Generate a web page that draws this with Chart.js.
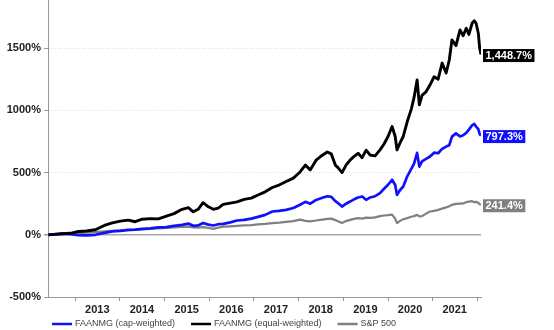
<!DOCTYPE html>
<html lang="en">
<head>
<meta charset="UTF-8">
<title>FAANMG vs S&amp;P 500</title>
<script src="https://cdn.jsdelivr.net/npm/chart.js"></script>
<style>
  html, body { margin: 0; padding: 0; background: #fff; }
  #wrap { width: 554px; height: 330px; position: relative; }
</style>
</head>
<body>
<div id="wrap"><canvas id="perfChart"></canvas></div>
<script>
  // cumulative return since the start (%), dates as decimal years
  const dates = [
    2012.40, 2012.55, 2012.71, 2012.89, 2013.07, 2013.25, 2013.45, 2013.65, 2013.83, 2014.01,
    2014.19, 2014.34, 2014.50, 2014.68, 2014.86, 2015.04, 2015.21, 2015.39, 2015.53, 2015.64,
    2015.75, 2015.86, 2015.98, 2016.09, 2016.20, 2016.31, 2016.47, 2016.62, 2016.78, 2016.94,
    2017.09, 2017.25, 2017.41, 2017.56, 2017.72, 2017.88, 2018.03, 2018.15, 2018.26, 2018.39,
    2018.53, 2018.64, 2018.73, 2018.82, 2018.88, 2018.97, 2019.06, 2019.15, 2019.24, 2019.33,
    2019.42, 2019.51, 2019.60, 2019.71, 2019.82, 2019.91, 2020.00, 2020.09, 2020.16, 2020.20,
    2020.27, 2020.34, 2020.43, 2020.52, 2020.58, 2020.65, 2020.70, 2020.76, 2020.85, 2020.94,
    2021.03, 2021.12, 2021.21, 2021.30, 2021.37, 2021.43, 2021.52, 2021.61, 2021.68, 2021.75,
    2021.81, 2021.88, 2021.93, 2021.97, 2022.02, 2022.05, 2022.08
  ];
  const capWeighted = [
    0, 5, 10, 5, -3, -5, 0, 15, 27, 32,
    40, 42, 48, 52, 60, 62, 72, 80, 90, 72,
    75, 95, 82, 75, 85, 88, 100, 115, 120, 130,
    144, 160, 187, 192, 200, 215, 241, 265, 250, 280,
    297, 310, 305, 270, 255, 227, 250, 267, 285, 300,
    308, 281, 300, 310, 335, 370, 402, 442, 400, 321,
    360, 388, 470, 530, 570, 658, 548, 590, 610, 629,
    660, 655, 690, 709, 720, 789, 815, 790, 800, 819,
    845, 880, 891, 870, 850, 810, 797.3
  ];
  const equalWeighted = [
    0, 3, 8, 12, 27, 30, 40, 75, 96, 110,
    118, 105, 125, 130, 128, 150, 170, 205, 218, 185,
    205, 258, 225, 205, 215, 245, 255, 265, 285, 295,
    320, 345, 380, 400, 428, 455, 505, 560, 522, 600,
    640, 665, 650, 560, 540, 500, 560, 600, 630, 655,
    620, 680, 640, 634, 682, 730, 790, 870, 790, 682,
    740, 790, 910, 1010, 1100, 1245, 1044, 1120, 1150, 1205,
    1270, 1250, 1380, 1300, 1405, 1566, 1520, 1646, 1600, 1660,
    1610, 1700, 1720, 1700, 1620, 1500, 1448.7
  ];
  const sp500 = [
    0, 4, 8, 12, 13, 18, 22, 28, 32, 35,
    38, 40, 44, 48, 52, 56, 60, 63, 66, 60,
    58, 62, 55, 48, 58, 65, 68, 72, 75, 78,
    84, 88, 94, 98, 104, 110, 122, 112, 108, 115,
    122, 128, 130, 118, 108, 94, 110, 120, 128, 134,
    130, 138, 136, 140, 150, 155, 158, 162, 130, 94,
    112, 125, 134, 145, 150, 160, 148, 150, 170, 187,
    192, 200, 210, 220, 230, 241, 248, 250, 252, 262,
    267, 270, 262, 265, 257, 245, 241.4
  ];
  const seriesNames = ['FAANMG (cap-weighted)', 'FAANMG (equal-weighted)', 'S&P 500'];
  const seriesColors = ['#1010ff', '#000000', '#808080'];
  const yearTicks = [2013, 2014, 2015, 2016, 2017, 2018, 2019, 2020, 2021, 2022];
  const yTicks = [-500, 0, 500, 1000, 1500];

  const FONT = '"Liberation Sans", Arial, sans-serif';

  function toPoints(values) {
    return dates.map((d, i) => ({ x: d, y: values[i] }));
  }

  // boxed value label at the end of each line
  const endLabels = {
    id: 'endLabels',
    afterDatasetsDraw(chart) {
      const ctx = chart.ctx;
      const yScale = chart.scales.y;
      const x0 = chart.chartArea.right + 2;
      ctx.save();
      ctx.font = 'bold 11px ' + FONT;
      ctx.textBaseline = 'middle';
      chart.data.datasets.forEach(ds => {
        const last = ds.data[ds.data.length - 1].y;
        const y = yScale.getPixelForValue(last) + 1;
        const txt = last.toLocaleString('en-US', { minimumFractionDigits: 1, maximumFractionDigits: 1 }) + '%';
        const w = ctx.measureText(txt).width + 5;
        ctx.fillStyle = ds.borderColor;
        ctx.fillRect(x0, y - 6.5, w, 13);
        ctx.fillStyle = '#fff';
        ctx.fillText(txt, x0 + 2.5, y + 0.5);
      });
      ctx.restore();
    }
  };

  // single-row legend under the axis
  const bottomLegend = {
    id: 'bottomLegend',
    afterDraw(chart) {
      const ctx = chart.ctx;
      let x = 52;
      const y = 324;
      ctx.save();
      ctx.font = '9px ' + FONT;
      ctx.textBaseline = 'middle';
      chart.data.datasets.forEach(ds => {
        ctx.strokeStyle = ds.borderColor;
        ctx.lineWidth = 2.5;
        ctx.beginPath();
        ctx.moveTo(x, y);
        ctx.lineTo(x + 20, y);
        ctx.stroke();
        ctx.fillStyle = '#444';
        ctx.fillText(ds.label, x + 23, y);
        x += 23 + ctx.measureText(ds.label).width + 16;
      });
      ctx.restore();
    }
  };

  new Chart(document.getElementById('perfChart'), {
    type: 'line',
    data: {
      datasets: [
        { label: seriesNames[0], data: toPoints(capWeighted), borderColor: seriesColors[0], borderWidth: 2.7, order: 2 },
        { label: seriesNames[1], data: toPoints(equalWeighted), borderColor: seriesColors[1], borderWidth: 2.9, order: 1 },
        { label: seriesNames[2], data: toPoints(sp500), borderColor: seriesColors[2], borderWidth: 2.2, order: 3 }
      ]
    },
    options: {
      responsive: true,
      maintainAspectRatio: false,
      animation: false,
      elements: { point: { radius: 0 }, line: { tension: 0, borderJoinStyle: 'round' } },
      layout: { padding: { top: 0, right: 73, bottom: 16, left: 0 } },
      plugins: { legend: { display: false }, tooltip: { enabled: false } },
      scales: {
        x: {
          type: 'linear',
          min: 2012.39,
          max: 2022.08,
          afterBuildTicks: s => { s.ticks = yearTicks.map(v => ({ value: v })); },
          afterFit: s => { s.height = 17; s.paddingLeft = 0; s.paddingRight = 0; },
          ticks: {
            callback: v => (v < 2022 ? String(v) : ''),
            labelOffset: 22,
            padding: 2,
            maxRotation: 0,
            autoSkip: false,
            color: '#222',
            font: { family: FONT, size: 11, weight: 'bold' }
          },
          grid: { drawOnChartArea: false, tickLength: 4, color: '#999' },
          border: { color: '#999', width: 1 }
        },
        y: {
          min: -500,
          max: 1887,
          afterBuildTicks: s => { s.ticks = yTicks.map(v => ({ value: v })); },
          afterFit: s => { s.width = 48; s.paddingTop = 0; s.paddingBottom = 0; },
          ticks: {
            callback: v => v + '%',
            padding: 3,
            color: '#222',
            font: { family: FONT, size: 11, weight: 'bold' }
          },
          grid: {
            color: c => (c.tick && c.tick.value === 0 ? '#a6a6a6' : (c.tick && c.tick.value === -500 ? 'rgba(0,0,0,0)' : '#dcdcdc')),
            lineWidth: c => (c.tick && c.tick.value === 0 ? 1.5 : 1),
            tickColor: '#999',
            tickLength: 4
          },
          border: {
            color: '#999',
            width: 1,
            dash: c => (c.tick && c.tick.value === 0 ? [] : [1, 2])
          }
        }
      }
    },
    plugins: [endLabels, bottomLegend]
  });
</script>
</body>
</html>
